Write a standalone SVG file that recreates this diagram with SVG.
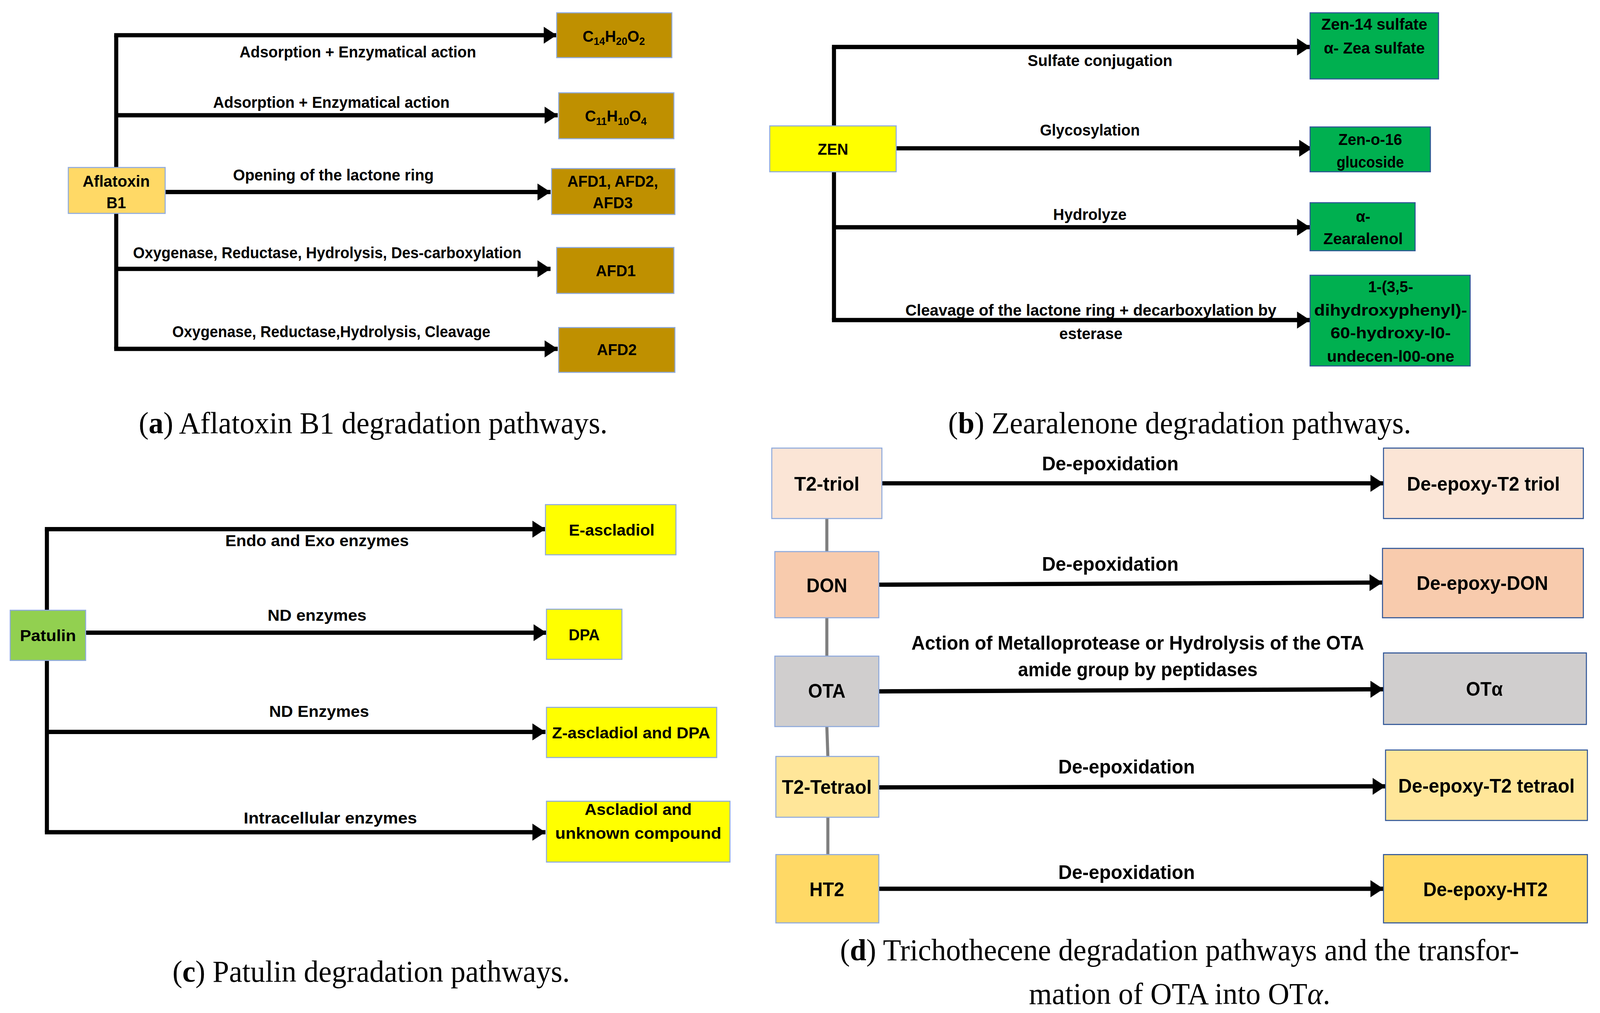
<svg xmlns="http://www.w3.org/2000/svg" width="4282" height="2593" viewBox="0 0 4282 2593">
<style>
.ln{stroke:#000;stroke-width:4;fill:none}
.ar{stroke:#000;stroke-width:4;fill:none;marker-end:url(#ah)}
.lb{font-family:"Liberation Sans Narrow","Liberation Sans",Arial,sans-serif;font-weight:bold;font-size:15px;fill:#000;text-anchor:middle}
.lbd{font-family:"Liberation Sans Narrow","Liberation Sans",Arial,sans-serif;font-weight:bold;font-size:18px;fill:#000;text-anchor:middle}
.cap{font-family:"Liberation Serif","Times New Roman",serif;font-size:29px;fill:#000;text-anchor:middle}
.bx{stroke:#8FAADC;stroke-width:1}
.gold{fill:#BF9000;stroke:#8FAADC;stroke-width:1}
.grn{fill:#00B050;stroke:#2F5597;stroke-width:1}
.yel{fill:#FFFF00;stroke:#8FAADC;stroke-width:1}
.gl{stroke:#7F7F7F;stroke-width:3}
.rb{stroke:#2F5597;stroke-width:1}
</style>
<defs>
<marker id="ah" markerWidth="4" markerHeight="4" refX="3.2" refY="2" orient="auto" markerUnits="strokeWidth" viewBox="0 0 4 4">
<path d="M0,0 L3.2,2 L0,4 Z" fill="#000"/>
</marker>
</defs>
<rect width="4282" height="2593" fill="#fff"/>
<g transform="scale(2.61,2.731)">
<g id="connectors-a">
<polyline class="ln" points="114,327 114,33"/>
<line class="ar" x1="112" y1="33" x2="546" y2="33"/>
<line class="ar" x1="114" y1="108" x2="547" y2="108"/>
<line class="ar" x1="162" y1="180" x2="540" y2="180"/>
<line class="ar" x1="114" y1="252" x2="540" y2="252"/>
<line class="ar" x1="112" y1="327" x2="547" y2="327"/>
<text class="lb" x="351" y="54" textLength="232" lengthAdjust="spacingAndGlyphs">Adsorption + Enzymatical action</text>
<text class="lb" x="325" y="101" textLength="232" lengthAdjust="spacingAndGlyphs">Adsorption + Enzymatical action</text>
<text class="lb" x="327" y="169" textLength="197" lengthAdjust="spacingAndGlyphs">Opening of the lactone ring</text>
<text class="lb" x="321" y="242" textLength="381" lengthAdjust="spacingAndGlyphs">Oxygenase, Reductase, Hydrolysis, Des-carboxylation</text>
<text class="lb" x="325" y="316" textLength="312" lengthAdjust="spacingAndGlyphs">Oxygenase, Reductase,Hydrolysis, Cleavage</text>
</g>
<g id="aflatoxin"><rect x="67" y="157" width="95" height="43" fill="#FFD966" class="bx"/><text class="lb" x="114" y="175" textLength="66" lengthAdjust="spacingAndGlyphs">Aflatoxin</text><text class="lb" x="114" y="195">B1</text></g>
<g id="c14"><rect class="gold" x="546" y="12" width="113" height="42"/><text class="lb" x="602" y="39">C<tspan font-size="10" dy="3">14</tspan><tspan dy="-3">H</tspan><tspan font-size="10" dy="3">20</tspan><tspan dy="-3">O</tspan><tspan font-size="10" dy="3">2</tspan></text></g>
<g id="c11"><rect class="gold" x="548" y="87" width="113" height="43"/><text class="lb" x="604" y="114">C<tspan font-size="10" dy="3">11</tspan><tspan dy="-3">H</tspan><tspan font-size="10" dy="3">10</tspan><tspan dy="-3">O</tspan><tspan font-size="10" dy="3">4</tspan></text></g>
<g id="afd123"><rect class="gold" x="541" y="158" width="121" height="43"/><text class="lb" x="601" y="175" textLength="89" lengthAdjust="spacingAndGlyphs">AFD1, AFD2,</text><text class="lb" x="601" y="195">AFD3</text></g>
<g id="afd1"><rect class="gold" x="546" y="232" width="115" height="43"/><text class="lb" x="604" y="259">AFD1</text></g>
<g id="afd2"><rect class="gold" x="548" y="307" width="114" height="42"/><text class="lb" x="605" y="333">AFD2</text></g>
<text class="cap" x="366" y="406">(<tspan font-weight="bold">a</tspan>) Aflatoxin B1 degradation pathways.</text>

<g id="connectors-b">
<polyline class="ln" points="818,300 818,44"/>
<line class="ar" x1="816" y1="44" x2="1285" y2="44"/>
<line class="ar" x1="879" y1="139" x2="1287" y2="139"/>
<line class="ar" x1="818" y1="213" x2="1285" y2="213"/>
<line class="ar" x1="816" y1="300" x2="1285" y2="300"/>
<text class="lb" x="1079" y="62" textLength="142" lengthAdjust="spacingAndGlyphs">Sulfate conjugation</text>
<text class="lb" x="1069" y="127" textLength="98" lengthAdjust="spacingAndGlyphs">Glycosylation</text>
<text class="lb" x="1069" y="206" textLength="72" lengthAdjust="spacingAndGlyphs">Hydrolyze</text>
<text class="lb" x="1070" y="296" textLength="364" lengthAdjust="spacingAndGlyphs">Cleavage of the lactone ring + decarboxylation by</text>
<text class="lb" x="1070" y="318" textLength="62" lengthAdjust="spacingAndGlyphs">esterase</text>
</g>
<g id="zen"><rect x="755" y="118" width="124" height="43" class="yel"/><text class="lb" x="817" y="145">ZEN</text></g>
<g id="zen14"><rect class="grn" x="1285" y="12" width="126" height="62"/><text class="lb" x="1348" y="28" textLength="104" lengthAdjust="spacingAndGlyphs">Zen-14 sulfate</text><text class="lb" x="1348" y="50" textLength="99" lengthAdjust="spacingAndGlyphs">α- Zea sulfate</text></g>
<g id="zeno16"><rect class="grn" x="1285" y="119" width="118" height="42"/><text class="lb" x="1344" y="136">Zen-o-16</text><text class="lb" x="1344" y="157" textLength="66" lengthAdjust="spacingAndGlyphs">glucoside</text></g>
<g id="zearalenol"><rect class="grn" x="1285" y="190" width="103" height="45"/><text class="lb" x="1337" y="208">α-</text><text class="lb" x="1337" y="229" textLength="78" lengthAdjust="spacingAndGlyphs">Zearalenol</text></g>
<g id="dihydroxy"><rect class="grn" x="1285" y="258" width="157" height="85"/><text class="lb" x="1364" y="274">1-(3,5-</text><text class="lb" x="1364" y="296" textLength="150" lengthAdjust="spacingAndGlyphs">dihydroxyphenyl)-</text><text class="lb" x="1364" y="317" textLength="118" lengthAdjust="spacingAndGlyphs">60-hydroxy-l0-</text><text class="lb" x="1364" y="339" textLength="125" lengthAdjust="spacingAndGlyphs">undecen-l00-one</text></g>
<text class="cap" x="1157" y="406">(<tspan font-weight="bold">b</tspan>) Zearalenone degradation pathways.</text>

<g id="connectors-c">
<polyline class="ln" points="46,780 46,496"/>
<line class="ar" x1="44" y1="496" x2="535" y2="496"/>
<line class="ar" x1="84" y1="593" x2="536" y2="593"/>
<line class="ar" x1="46" y1="686" x2="535" y2="686"/>
<line class="ar" x1="44" y1="780" x2="535" y2="780"/>
<text class="lb" x="311" y="512" textLength="180" lengthAdjust="spacingAndGlyphs">Endo and Exo enzymes</text>
<text class="lb" x="311" y="582" textLength="97" lengthAdjust="spacingAndGlyphs">ND enzymes</text>
<text class="lb" x="313" y="672" textLength="98" lengthAdjust="spacingAndGlyphs">ND Enzymes</text>
<text class="lb" x="324" y="772" textLength="170" lengthAdjust="spacingAndGlyphs">Intracellular enzymes</text>
</g>
<g id="patulin"><rect x="10" y="572" width="74" height="47" fill="#92D050" class="bx"/><text class="lb" x="47" y="601" textLength="55" lengthAdjust="spacingAndGlyphs">Patulin</text></g>
<g id="eascladiol"><rect class="yel" x="535" y="473" width="128" height="47"/><text class="lb" x="600" y="502" textLength="84" lengthAdjust="spacingAndGlyphs">E-ascladiol</text></g>
<g id="dpa"><rect class="yel" x="536" y="571" width="74" height="47"/><text class="lb" x="573" y="600">DPA</text></g>
<g id="zascladiol"><rect class="yel" x="536" y="663" width="167" height="47"/><text class="lb" x="619" y="692" textLength="155" lengthAdjust="spacingAndGlyphs">Z-ascladiol and DPA</text></g>
<g id="ascladiol"><rect class="yel" x="536" y="751" width="180" height="57"/><text class="lb" x="626" y="764" textLength="105" lengthAdjust="spacingAndGlyphs">Ascladiol and</text><text class="lb" x="626" y="786" textLength="163" lengthAdjust="spacingAndGlyphs">unknown compound</text></g>
<text class="cap" x="364" y="920">(<tspan font-weight="bold">c</tspan>) Patulin degradation pathways.</text>

<g id="connectors-d">
<line class="gl" x1="811" y1="486" x2="811" y2="517"/>
<line class="gl" x1="811" y1="579" x2="811" y2="615"/>
<line class="gl" x1="811" y1="681" x2="812" y2="709"/>
<line class="gl" x1="812" y1="766" x2="812" y2="801"/>
<line class="ar" x1="865" y1="453" x2="1357" y2="453"/>
<line class="ar" x1="862" y1="548" x2="1356" y2="546"/>
<line class="ar" x1="862" y1="648" x2="1357" y2="646"/>
<line class="ar" x1="862" y1="738" x2="1359" y2="737"/>
<line class="ar" x1="862" y1="833" x2="1357" y2="833"/>
<text class="lbd" x="1089" y="441" textLength="134" lengthAdjust="spacingAndGlyphs">De-epoxidation</text>
<text class="lbd" x="1089" y="535" textLength="134" lengthAdjust="spacingAndGlyphs">De-epoxidation</text>
<text class="lbd" x="1116" y="609" textLength="444" lengthAdjust="spacingAndGlyphs">Action of Metalloprotease or Hydrolysis of the OTA</text>
<text class="lbd" x="1116" y="634" textLength="235" lengthAdjust="spacingAndGlyphs">amide group by peptidases</text>
<text class="lbd" x="1105" y="725" textLength="134" lengthAdjust="spacingAndGlyphs">De-epoxidation</text>
<text class="lbd" x="1105" y="824" textLength="134" lengthAdjust="spacingAndGlyphs">De-epoxidation</text>
</g>
<g id="t2triol"><rect class="bx" x="757" y="420" width="108" height="66" fill="#FBE5D6"/><text class="lbd" x="811" y="460" textLength="64" lengthAdjust="spacingAndGlyphs">T2-triol</text></g>
<g id="don"><rect class="bx" x="760" y="517" width="102" height="62" fill="#F8CBAD"/><text class="lbd" x="811" y="555">DON</text></g>
<g id="ota"><rect class="bx" x="760" y="615" width="102" height="66" fill="#D0CECE"/><text class="lbd" x="811" y="654">OTA</text></g>
<g id="t2tetraol"><rect class="bx" x="761" y="709" width="101" height="57" fill="#FFE699"/><text class="lbd" x="811" y="744" textLength="88" lengthAdjust="spacingAndGlyphs">T2-Tetraol</text></g>
<g id="ht2"><rect class="bx" x="761" y="801" width="101" height="64" fill="#FFD966"/><text class="lbd" x="811" y="840">HT2</text></g>
<g id="dt2triol"><rect class="rb" x="1357" y="420" width="196" height="66" fill="#FBE5D6"/><text class="lbd" x="1455" y="460" textLength="150" lengthAdjust="spacingAndGlyphs">De-epoxy-T2 triol</text></g>
<g id="ddon"><rect class="rb" x="1356" y="514" width="197" height="65" fill="#F8CBAD"/><text class="lbd" x="1454" y="553" textLength="129" lengthAdjust="spacingAndGlyphs">De-epoxy-DON</text></g>
<g id="otalpha"><rect class="rb" x="1357" y="612" width="199" height="67" fill="#D0CECE"/><text class="lbd" x="1456" y="652">OTα</text></g>
<g id="dt2tetraol"><rect class="rb" x="1359" y="703" width="198" height="66" fill="#FFE699"/><text class="lbd" x="1458" y="743" textLength="173" lengthAdjust="spacingAndGlyphs">De-epoxy-T2 tetraol</text></g>
<g id="dht2"><rect class="rb" x="1357" y="801" width="200" height="64" fill="#FFD966"/><text class="lbd" x="1457" y="840" textLength="122" lengthAdjust="spacingAndGlyphs">De-epoxy-HT2</text></g>
<text class="cap" x="1157" y="900">(<tspan font-weight="bold">d</tspan>) Trichothecene degradation pathways and the transfor-</text>
<text class="cap" x="1157" y="941">mation of OTA into OT<tspan font-style="italic">α</tspan>.</text>
</g>
</svg>
